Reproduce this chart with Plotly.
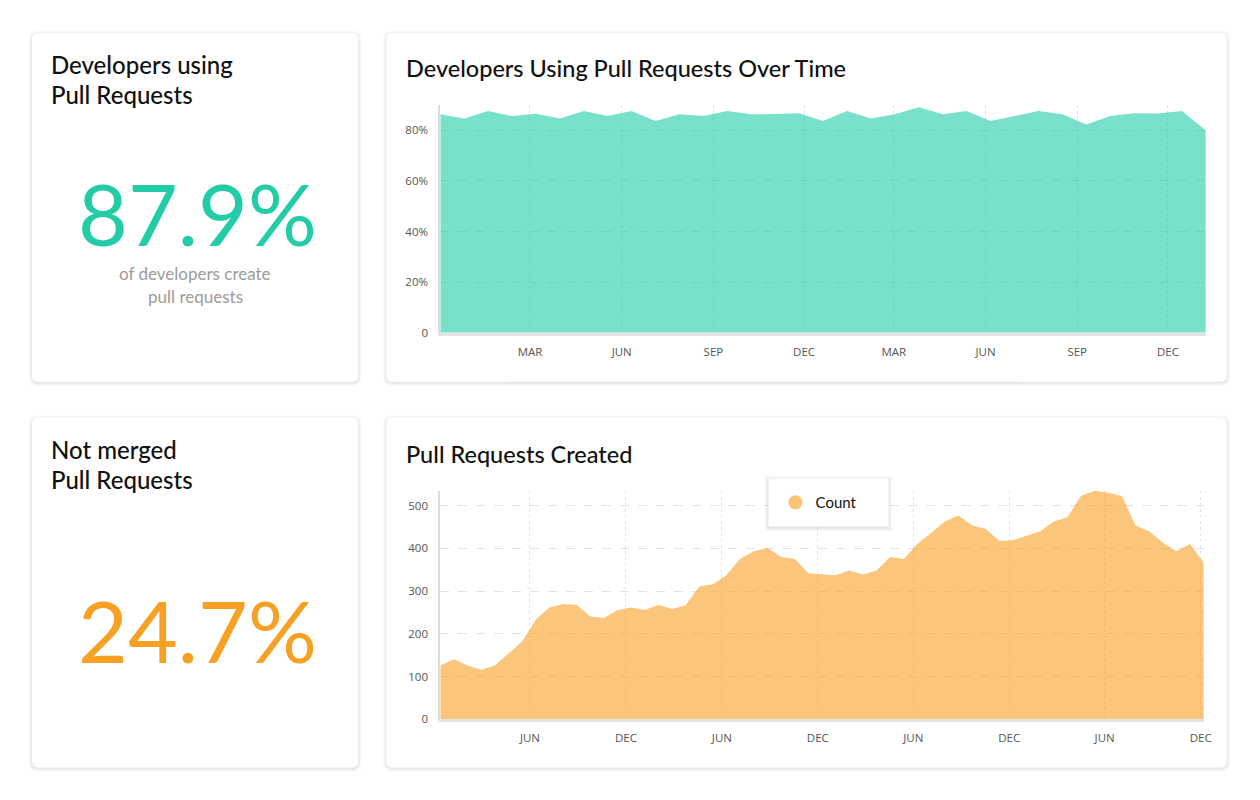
import plotly.graph_objects as go
import pandas as pd

W, H = 1260, 800
S = 0.993  # empirical render scale compensation

# ---------------- data ----------------
top_start = "2016-12-01"
top_step_days = 24
top_pct = [86.3, 84.6, 87.6, 85.6, 86.5, 84.6, 87.6, 85.6, 87.6, 83.6,
           86.3, 85.6, 87.6, 86.3, 86.4, 86.7, 83.6, 87.6, 84.6, 86.3,
           89.1, 86.3, 87.6, 83.6, 85.6, 87.6, 86.3, 82.3, 85.6, 86.7,
           86.6, 87.6, 80.0]
top_tick_dates = ["2017-03-01", "2017-06-01", "2017-09-01", "2017-12-01",
                  "2018-03-01", "2018-06-01", "2018-09-01", "2018-12-01"]
top_tick_text = ["MAR", "JUN", "SEP", "DEC", "MAR", "JUN", "SEP", "DEC"]
top_y_ticks = [0, 20, 40, 60, 80]
top_y_text = ["0", "20%", "40%", "60%", "80%"]

bot_start = "2014-12-12"
bot_step_days = 26
pr_count = [126, 141, 126, 116, 126, 153, 182, 233, 262, 270,
            268, 241, 237, 256, 262, 256, 268, 258, 267, 311,
            316, 338, 376, 393, 401, 380, 375, 342, 339, 337,
            348, 339, 348, 380, 375, 411, 436, 463, 477, 454,
            445, 418, 419, 430, 440, 463, 473, 523, 535, 530,
            522, 453, 440, 413, 393, 410, 366]
bot_tick_dates = ["2015-06-01", "2015-12-01", "2016-06-01", "2016-12-01",
                  "2017-06-01", "2017-12-01", "2018-06-01", "2018-12-01"]
bot_tick_text = ["JUN", "DEC", "JUN", "DEC", "JUN", "DEC", "JUN", "DEC"]
bot_y_ticks = [0, 100, 200, 300, 400, 500]

kpi1_value = "87.9%"
kpi1_title = ["Developers using", "Pull Requests"]
kpi1_sub = ["of developers create", "pull requests"]
kpi2_value = "24.7%"
kpi2_title = ["Not merged", "Pull Requests"]
chart1_title = "Developers Using Pull Requests Over Time"
chart2_title = "Pull Requests Created"
series_name = "Count"

top_dates = pd.date_range(top_start, periods=len(top_pct), freq=f"{top_step_days}D")
bot_dates = pd.date_range(bot_start, periods=len(pr_count), freq=f"{bot_step_days}D")

# ---------------- helpers ----------------
def X(px):
    return px / (W * S)

def Y(py):
    return 1 - py / (H * 0.992)

def rrect(x0, y0, x1, y1, r):
    return (f"M {X(x0+r)},{Y(y0)} L {X(x1-r)},{Y(y0)} Q {X(x1)},{Y(y0)} {X(x1)},{Y(y0+r)} "
            f"L {X(x1)},{Y(y1-r)} Q {X(x1)},{Y(y1)} {X(x1-r)},{Y(y1)} "
            f"L {X(x0+r)},{Y(y1)} Q {X(x0)},{Y(y1)} {X(x0)},{Y(y1-r)} "
            f"L {X(x0)},{Y(y0+r)} Q {X(x0)},{Y(y0)} {X(x0+r)},{Y(y0)} Z")

TEAL = "#22cca6"
ORANGE = "#f7a124"
TICKFONT = dict(family="Open Sans, Lato, sans-serif", size=11.5, color="#555555")
TITLEFONT = "Lato, sans-serif"

fig = go.Figure()

fig.add_trace(go.Scatter(
    x=top_dates, y=top_pct, mode="lines", line=dict(width=0, color=TEAL),
    fill="tozeroy", fillcolor="rgba(32,205,168,0.6)", showlegend=False,
    xaxis="x", yaxis="y", hoverinfo="skip"))

fig.add_trace(go.Scatter(
    x=bot_dates, y=pr_count, mode="lines", line=dict(width=0, color=ORANGE),
    fill="tozeroy", fillcolor="rgba(248,160,36,0.6)", showlegend=False,
    xaxis="x2", yaxis="y2", hoverinfo="skip"))

fig.add_trace(go.Scatter(
    x=[None], y=[None], mode="markers", name=series_name,
    marker=dict(size=14, color="#fbc477"), xaxis="x2", yaxis="y2"))

# ---------------- cards ----------------
shapes = []
cards = [(32, 33, 358, 382), (386, 33, 1226, 382),
         (32, 418, 358, 768), (386, 418, 1226, 768)]
for (x0, y0, x1, y1) in cards:
    for e, a in [(4, 0.012), (3, 0.018), (2, 0.025), (1, 0.035)]:
        shapes.append(dict(type="path", xref="paper", yref="paper",
                           path=rrect(x0 - e, y0 - e + 1, x1 + e, y1 + e + 1, 6 + e),
                           fillcolor=f"rgba(0,0,0,{a})", line=dict(width=0), layer="below"))
    shapes.append(dict(type="path", xref="paper", yref="paper",
                       path=rrect(x0, y0, x1, y1, 6),
                       fillcolor="white", line=dict(width=0), layer="below"))

# legend box with shadow
lx0, ly0, lx1, ly1 = 768, 479, 888, 527
for e, a in [(4, 0.015), (3, 0.02), (2, 0.03), (1, 0.04)]:
    shapes.append(dict(type="rect", xref="paper", yref="paper",
                       x0=X(lx0 - e), x1=X(lx1 + e), y0=Y(ly1 + e + 1), y1=Y(ly0 - e + 1),
                       fillcolor=f"rgba(0,0,0,{a})", line=dict(width=0), layer="above"))
shapes.append(dict(type="rect", xref="paper", yref="paper",
                   x0=X(lx0), x1=X(lx1), y0=Y(ly1), y1=Y(ly0),
                   fillcolor="white", line=dict(width=0), layer="above"))

# ---------------- annotations ----------------
ann = []
def text(x, y, s, size, color, xanchor="left", weight="normal", family=TITLEFONT):
    ann.append(dict(x=X(x), y=Y(y), xref="paper", yref="paper", text=s, showarrow=False,
                    xanchor=xanchor, yanchor="middle",
                    font=dict(family=family, size=size, color=color, weight=weight)))

text(49, 65, kpi1_title[0], 24, "#111111", weight=500)
text(49, 95, kpi1_title[1], 24, "#111111", weight=500)
text(197, 213, kpi1_value, 86, TEAL, xanchor="center")
text(195, 274, kpi1_sub[0], 17, "#9b9b9b", xanchor="center")
text(195, 297, kpi1_sub[1], 17, "#9b9b9b", xanchor="center")

text(49, 450, kpi2_title[0], 24, "#111111", weight=500)
text(49, 480, kpi2_title[1], 24, "#111111", weight=500)
text(197, 630, kpi2_value, 86, ORANGE, xanchor="center")

text(404, 68, chart1_title, 23.5, "#111111", weight=500)
text(404, 454, chart2_title, 23.5, "#111111", weight=500)

# ---------------- axes ----------------
axis_common = dict(showgrid=True, gridcolor="#e2e2e2", gridwidth=1, zeroline=False,
                   ticks="", tickfont=TICKFONT, fixedrange=True)

fig.update_layout(
    width=W, height=H, margin=dict(l=0, r=0, t=0, b=0),
    paper_bgcolor="white", plot_bgcolor="rgba(0,0,0,0)",
    shapes=shapes, annotations=ann,
    xaxis=dict(**axis_common, type="date", domain=[X(440), X(1205)],
               range=[top_dates[0], top_dates[-1]],
               tickvals=top_tick_dates, ticktext=top_tick_text, griddash="dot",
               showline=True, linecolor="#e4e4e4", linewidth=3, anchor="y",
               ticklabelstandoff=6),
    yaxis=dict(**axis_common, domain=[Y(333), Y(105)], range=[0, 90],
               tickvals=top_y_ticks, ticktext=top_y_text, griddash="dash",
               showline=True, linecolor="#dcdcdc", linewidth=2, anchor="x",
               ticklabelstandoff=8),
    xaxis2=dict(**axis_common, type="date", domain=[X(440), X(1203)],
                range=[bot_dates[0], bot_dates[-1]],
                tickvals=bot_tick_dates, ticktext=bot_tick_text, griddash="dot",
                showline=True, linecolor="#e4e4e4", linewidth=3, anchor="y2",
                ticklabelstandoff=6),
    yaxis2=dict(**axis_common, domain=[Y(720), Y(491)], range=[0, 535],
                tickvals=bot_y_ticks, griddash="dash",
                showline=True, linecolor="#dcdcdc", linewidth=2, anchor="x2",
                ticklabelstandoff=8),
    legend=dict(x=X(775), y=Y(503), xanchor="left", yanchor="middle",
                bgcolor="rgba(0,0,0,0)", borderwidth=0,
                font=dict(family="Lato, sans-serif", size=15, color="#111111"),
                itemwidth=30),
    showlegend=True,
)

fig.write_html("out.html")
